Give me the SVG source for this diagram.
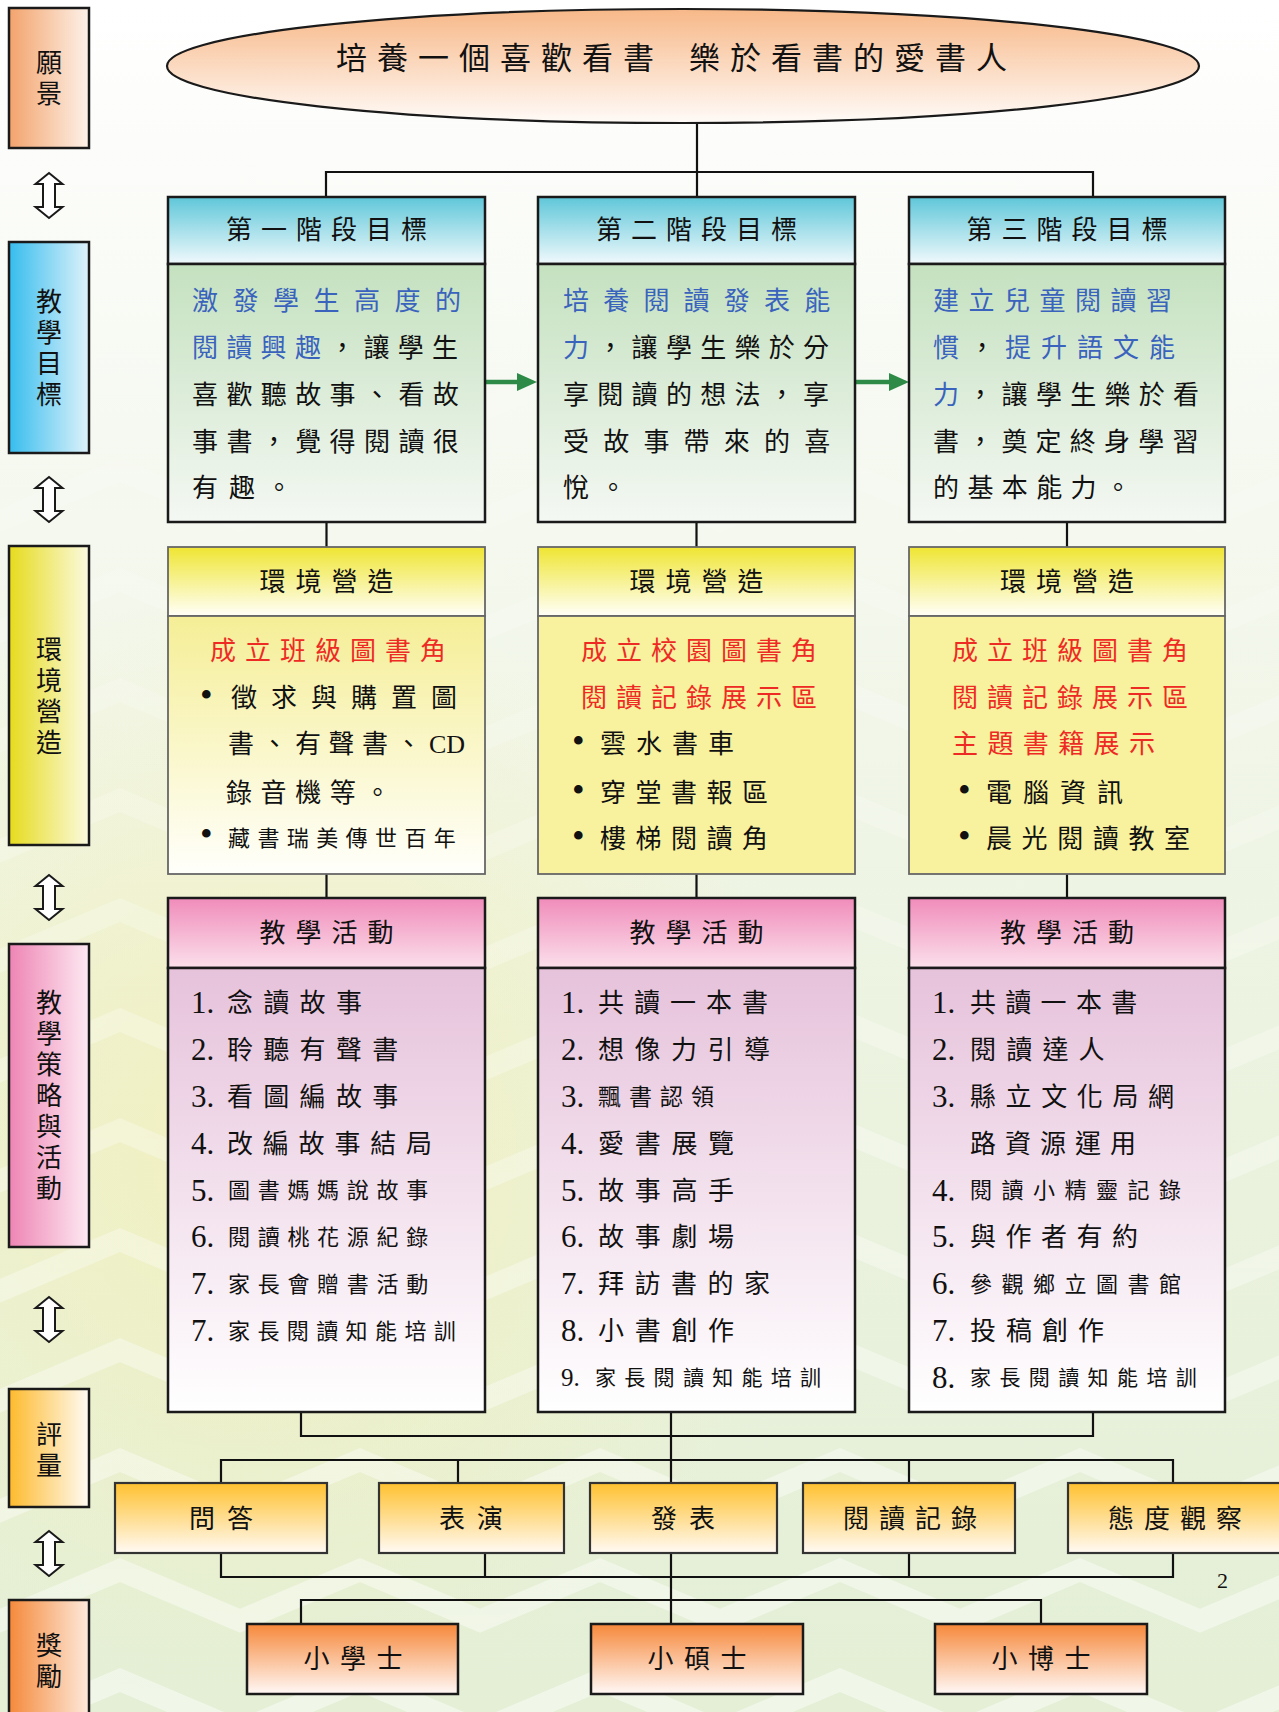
<svg xmlns="http://www.w3.org/2000/svg" width="1279" height="1712" viewBox="0 0 1279 1712">
<defs>
<style>
.cjk{font-family:"Noto Sans CJK TC","Noto Sans CJK SC",sans-serif;fill:#111;}
.num{font-family:"Liberation Serif","Noto Sans CJK TC",serif;fill:#111;}
.bul{font-family:"Liberation Serif",serif;font-size:36px;fill:#111;}
.b{fill:#3a63bd;}
.r{fill:#ee2a24;}
.k{fill:#111;}
.conn{stroke:#111;stroke-width:2.2;fill:none;}
.box{stroke:#1a1a1a;stroke-width:2.5;}
.gbox{stroke:#666;stroke-width:1.8;}
.ebox{stroke:#333;stroke-width:2.2;}
.lbl{font-size:26px;text-anchor:middle;writing-mode:vertical-rl;letter-spacing:5px;}
.hd{font-size:26px;}
.bd{font-size:26px;}
.sm{font-size:22px;}
.n{font-size:31px;}
</style>
<linearGradient id="bg" x1="0" y1="0" x2="0" y2="1">
<stop offset="0" stop-color="#ffffff"/><stop offset="0.25" stop-color="#f6f9f1"/><stop offset="0.6" stop-color="#ecf3e0"/><stop offset="1" stop-color="#e4efd6"/>
</linearGradient>
<radialGradient id="yel" cx="0.5" cy="0.5" r="0.5">
<stop offset="0" stop-color="#f4efb0" stop-opacity="0.7"/><stop offset="1" stop-color="#f4efb0" stop-opacity="0"/>
</radialGradient>
<pattern id="chev" width="240" height="110" patternUnits="userSpaceOnUse">
<polyline points="-10,85 120,30 250,85" stroke="#ffffff" stroke-opacity="0.45" stroke-width="22" fill="none"/>
</pattern>
<linearGradient id="fade" x1="0" y1="0" x2="0" y2="1">
<stop offset="0" stop-color="#fff" stop-opacity="0"/><stop offset="0.3" stop-color="#fff" stop-opacity="0.3"/><stop offset="1" stop-color="#fff" stop-opacity="1"/>
</linearGradient>
<mask id="chevmask"><rect width="1279" height="1712" fill="url(#fade)"/></mask>
<linearGradient id="gEll" x1="0" y1="0" x2="0" y2="1"><stop offset="0" stop-color="#f7b888"/><stop offset="1" stop-color="#fffbf8"/></linearGradient>
<linearGradient id="lVision" x1="0" y1="0" x2="1" y2="0"><stop offset="0" stop-color="#f3a36c"/><stop offset="1" stop-color="#fdf2ea"/></linearGradient>
<linearGradient id="lGoal" x1="0" y1="0" x2="1" y2="0"><stop offset="0" stop-color="#36bdee"/><stop offset="1" stop-color="#dff2fa"/></linearGradient>
<linearGradient id="lEnv" x1="0" y1="0" x2="1" y2="0"><stop offset="0" stop-color="#e6db1c"/><stop offset="1" stop-color="#fbfae0"/></linearGradient>
<linearGradient id="lAct" x1="0" y1="0" x2="1" y2="0"><stop offset="0" stop-color="#ee84b4"/><stop offset="1" stop-color="#fdeaf2"/></linearGradient>
<linearGradient id="lEval" x1="0" y1="0" x2="1" y2="0"><stop offset="0" stop-color="#fdba2c"/><stop offset="1" stop-color="#fffbf4"/></linearGradient>
<linearGradient id="lAward" x1="0" y1="0" x2="1" y2="0"><stop offset="0" stop-color="#f5893a"/><stop offset="1" stop-color="#fdeadc"/></linearGradient>
<linearGradient id="gGoalH" x1="0" y1="0" x2="0" y2="1"><stop offset="0" stop-color="#5fc7d9"/><stop offset="1" stop-color="#f0f9fc"/></linearGradient>
<linearGradient id="gGoalB" x1="0" y1="0" x2="0" y2="1"><stop offset="0" stop-color="#c4e1bf"/><stop offset="1" stop-color="#f4f8f3"/></linearGradient>
<linearGradient id="gEnvH" x1="0" y1="0" x2="0" y2="1"><stop offset="0" stop-color="#efe532"/><stop offset="1" stop-color="#fffff8"/></linearGradient>
<linearGradient id="gEnvB1" x1="0" y1="0" x2="0" y2="1"><stop offset="0" stop-color="#f5ee96"/><stop offset="1" stop-color="#fffffb"/></linearGradient>
<linearGradient id="gActH" x1="0" y1="0" x2="0" y2="1"><stop offset="0" stop-color="#f08cba"/><stop offset="1" stop-color="#fbe0eb"/></linearGradient>
<linearGradient id="gActB" x1="0" y1="0" x2="0" y2="1"><stop offset="0" stop-color="#e6c2db"/><stop offset="1" stop-color="#ffffff"/></linearGradient>
<linearGradient id="gEval" x1="0" y1="0" x2="0" y2="1"><stop offset="0" stop-color="#ffc12f"/><stop offset="1" stop-color="#fffaf4"/></linearGradient>
<linearGradient id="gAward" x1="0" y1="0" x2="0" y2="1"><stop offset="0" stop-color="#f6883a"/><stop offset="1" stop-color="#fff8f6"/></linearGradient>
<path id="dbl" d="M0,0 L13.5,11 L6,11 L6,34 L13.5,34 L0,45 L-13.5,34 L-6,34 L-6,11 L-13.5,11 Z" fill="#ffffff" stroke="#1a1a1a" stroke-width="2"/>
<marker id="garrow" markerUnits="userSpaceOnUse" markerWidth="20" markerHeight="18" refX="13" refY="9" orient="auto">
<path d="M0,0 L20,9 L0,18 Z" fill="#2e8b47"/>
</marker>
</defs>

<g id="background">
<rect width="1279" height="1712" fill="url(#bg)"/>
<ellipse cx="260" cy="1150" rx="560" ry="560" fill="url(#yel)"/>
<rect width="1279" height="1712" fill="url(#chev)" mask="url(#chevmask)"/>
</g>

<g id="connectors">
<path class="conn" d="M697,123 V197 M326,197 V172 H1093 V197"/>
<path class="conn" d="M326.5,522 V547 M696.5,522 V547 M1067,522 V547"/>
<path class="conn" d="M326.5,874 V898 M696.5,874 V898 M1067,874 V898"/>
<path class="conn" d="M301,1412 V1436 H1093 V1412 M671,1412 V1483"/>
<path class="conn" d="M221,1483 V1460 H1173 V1483 M458,1460 V1483 M909,1460 V1483"/>
<path class="conn" d="M221,1553 V1577 H1173 V1553 M485,1553 V1577 M909,1553 V1577 M671,1553 V1624"/>
<path class="conn" d="M301,1624 V1600 H1041 V1624"/>
<line x1="485" y1="382" x2="530" y2="382" stroke="#2e8b47" stroke-width="4.5" marker-end="url(#garrow)"/>
<line x1="855" y1="382" x2="902" y2="382" stroke="#2e8b47" stroke-width="4.5" marker-end="url(#garrow)"/>
</g>

<g id="side-arrows">
<use href="#dbl" x="49" y="173"/>
<use href="#dbl" x="49" y="477"/>
<use href="#dbl" x="49" y="875"/>
<use href="#dbl" x="49" y="1297"/>
<use href="#dbl" x="49" y="1531"/>
</g>

<g id="label-vision">
<rect x="9" y="8" width="80" height="140" fill="url(#lVision)" class="box" stroke-width="2"/>
<text class="cjk lbl" x="49" y="80.5">願景</text>
</g>
<g id="label-goals">
<rect x="9" y="242" width="80" height="211" fill="url(#lGoal)" class="box" stroke-width="2"/>
<text class="cjk lbl" x="49" y="350">教學目標</text>
</g>
<g id="label-env">
<rect x="9" y="546" width="80" height="299" fill="url(#lEnv)" class="box" stroke-width="2"/>
<text class="cjk lbl" x="49" y="698">環境營造</text>
</g>
<g id="label-strategy">
<rect x="9" y="944" width="80" height="303" fill="url(#lAct)" class="box" stroke-width="2"/>
<text class="cjk lbl" x="49" y="1098">教學策略與活動</text>
</g>
<g id="label-eval">
<rect x="9" y="1389" width="80" height="118" fill="url(#lEval)" class="box" stroke-width="2"/>
<text class="cjk lbl" x="49" y="1452.5">評量</text>
</g>
<g id="label-award">
<rect x="9" y="1600" width="80" height="130" fill="url(#lAward)" class="box" stroke-width="2"/>
<text class="cjk lbl" x="49" y="1663">獎勵</text>
</g>

<g id="vision">
<ellipse cx="683" cy="66" rx="516" ry="57" fill="url(#gEll)" stroke="#1a1a1a" stroke-width="2.2"/>
<text class="cjk" font-size="31" letter-spacing="10" y="69"><tspan x="336">培養一個喜歡看書</tspan> <tspan x="689">樂於看書的愛書人</tspan></text>
</g>

<g id="goal-1">
<rect x="168" y="197" width="317" height="67" fill="url(#gGoalH)" class="box"/>
<rect x="168" y="264" width="317" height="258" fill="url(#gGoalB)" class="box"/>
<text class="cjk hd" x="226" y="239" letter-spacing="9">第一階段目標</text>
<text class="cjk bd b" x="192" y="310" letter-spacing="14.5">激發學生高度的</text>
<text class="cjk bd" x="192" y="357" letter-spacing="8.3"><tspan class="b">閱讀興趣</tspan><tspan class="k">，讓學生</tspan></text>
<text class="cjk bd" x="192" y="404" letter-spacing="8.4">喜歡聽故事、看故</text>
<text class="cjk bd" x="192" y="451" letter-spacing="8.4">事書，覺得閱讀很</text>
<text class="cjk bd" x="192" y="497" letter-spacing="11">有趣。</text>
</g>
<g id="goal-2">
<rect x="538" y="197" width="317" height="67" fill="url(#gGoalH)" class="box"/>
<rect x="538" y="264" width="317" height="258" fill="url(#gGoalB)" class="box"/>
<text class="cjk hd" x="596" y="239" letter-spacing="9">第二階段目標</text>
<text class="cjk bd b" x="563" y="310" letter-spacing="14.2">培養閱讀發表能</text>
<text class="cjk bd" x="563" y="357" letter-spacing="8.3"><tspan class="b">力</tspan><tspan class="k">，讓學生樂於分</tspan></text>
<text class="cjk bd" x="563" y="404" letter-spacing="8.3">享閱讀的想法，享</text>
<text class="cjk bd" x="563" y="451" letter-spacing="14.2">受故事帶來的喜</text>
<text class="cjk bd" x="563" y="497" letter-spacing="11">悅。</text>
</g>
<g id="goal-3">
<rect x="909" y="197" width="316" height="67" fill="url(#gGoalH)" class="box"/>
<rect x="909" y="264" width="316" height="258" fill="url(#gGoalB)" class="box"/>
<text class="cjk hd" x="966.5" y="239" letter-spacing="9">第三階段目標</text>
<text class="cjk bd b" x="933" y="310" letter-spacing="9.5">建立兒童閱讀習</text>
<text class="cjk bd" x="933" y="357" letter-spacing="10"><tspan class="b">慣</tspan><tspan class="k">，</tspan><tspan class="b">提升語文能</tspan></text>
<text class="cjk bd" x="933" y="404" letter-spacing="8.3"><tspan class="b">力</tspan><tspan class="k">，讓學生樂於看</tspan></text>
<text class="cjk bd" x="933" y="451" letter-spacing="8.2">書，奠定終身學習</text>
<text class="cjk bd" x="933" y="497" letter-spacing="8.4">的基本能力。</text>
</g>

<g id="env-1">
<rect x="168" y="547" width="317" height="69" fill="url(#gEnvH)" class="gbox"/>
<rect x="168" y="616" width="317" height="258" fill="url(#gEnvB1)" class="gbox"/>
<text class="cjk hd" x="259.5" y="591" letter-spacing="10">環境營造</text>
<text class="cjk bd r" x="210" y="660" letter-spacing="9">成立班級圖書角</text>
<text class="cjk bd" y="707"><tspan class="bul" x="200">•</tspan><tspan x="231" letter-spacing="14">徵求與購置圖</tspan></text>
<text class="cjk bd" y="753"><tspan x="228" letter-spacing="7.5">書、有聲書、</tspan><tspan class="num" x="429">CD</tspan></text>
<text class="cjk bd" x="226" y="802" letter-spacing="8.6">錄音機等。</text>
<text class="cjk" y="846"><tspan class="bul" x="200">•</tspan><tspan x="228" font-size="22" letter-spacing="7.4">藏書瑞美傳世百年</tspan></text>
</g>
<g id="env-2">
<rect x="538" y="547" width="317" height="69" fill="url(#gEnvH)" class="gbox"/>
<rect x="538" y="616" width="317" height="258" fill="#f8f29e" class="gbox"/>
<text class="cjk hd" x="629.5" y="591" letter-spacing="10">環境營造</text>
<text class="cjk bd r" x="581" y="660" letter-spacing="9">成立校園圖書角</text>
<text class="cjk bd r" x="581" y="707" letter-spacing="9">閱讀記錄展示區</text>
<text class="cjk bd" y="753"><tspan class="bul" x="572">•</tspan><tspan x="600" letter-spacing="10">雲水書車</tspan></text>
<text class="cjk bd" y="802"><tspan class="bul" x="572">•</tspan><tspan x="600" letter-spacing="9.5">穿堂書報區</tspan></text>
<text class="cjk bd" y="848"><tspan class="bul" x="572">•</tspan><tspan x="600" letter-spacing="9.5">樓梯閱讀角</tspan></text>
</g>
<g id="env-3">
<rect x="909" y="547" width="316" height="69" fill="url(#gEnvH)" class="gbox"/>
<rect x="909" y="616" width="316" height="258" fill="#f8f29e" class="gbox"/>
<text class="cjk hd" x="1000" y="591" letter-spacing="10">環境營造</text>
<text class="cjk bd r" x="952" y="660" letter-spacing="9">成立班級圖書角</text>
<text class="cjk bd r" x="952" y="707" letter-spacing="9">閱讀記錄展示區</text>
<text class="cjk bd r" x="952" y="753" letter-spacing="9.4">主題書籍展示</text>
<text class="cjk bd" y="802"><tspan class="bul" x="958">•</tspan><tspan x="986" letter-spacing="11">電腦資訊</tspan></text>
<text class="cjk bd" y="848"><tspan class="bul" x="958">•</tspan><tspan x="986" letter-spacing="9.6">晨光閱讀教室</tspan></text>
</g>

<g id="activity-1">
<rect x="168" y="898" width="317" height="70" fill="url(#gActH)" class="box"/>
<rect x="168" y="968" width="317" height="444" fill="url(#gActB)" class="box"/>
<text class="cjk hd" x="259.5" y="942" letter-spacing="10">教學活動</text>
<text class="num n" x="191" y="1013">1.</text><text class="cjk bd" x="227" y="1012" letter-spacing="10.3">念讀故事</text>
<text class="num n" x="191" y="1060">2.</text><text class="cjk bd" x="227" y="1059" letter-spacing="10.3">聆聽有聲書</text>
<text class="num n" x="191" y="1107">3.</text><text class="cjk bd" x="227" y="1106" letter-spacing="10.3">看圖編故事</text>
<text class="num n" x="191" y="1154">4.</text><text class="cjk bd" x="227" y="1153" letter-spacing="9.8">改編故事結局</text>
<text class="num n" x="191" y="1201">5.</text><text class="cjk sm" x="228" y="1198" letter-spacing="7.7">圖書媽媽說故事</text>
<text class="num n" x="191" y="1247">6.</text><text class="cjk sm" x="228" y="1245" letter-spacing="7.7">閱讀桃花源紀錄</text>
<text class="num n" x="191" y="1294">7.</text><text class="cjk sm" x="228" y="1292" letter-spacing="7.7">家長會贈書活動</text>
<text class="num n" x="191" y="1341">7.</text><text class="cjk sm" x="228" y="1339" letter-spacing="7.4">家長閱讀知能培訓</text>
</g>
<g id="activity-2">
<rect x="538" y="898" width="317" height="70" fill="url(#gActH)" class="box"/>
<rect x="538" y="968" width="317" height="444" fill="url(#gActB)" class="box"/>
<text class="cjk hd" x="629.5" y="942" letter-spacing="10">教學活動</text>
<text class="num n" x="561" y="1013">1.</text><text class="cjk bd" x="598" y="1012" letter-spacing="10">共讀一本書</text>
<text class="num n" x="561" y="1060">2.</text><text class="cjk bd" x="598" y="1059" letter-spacing="10.5">想像力引導</text>
<text class="num n" x="561" y="1107">3.</text><text class="cjk" font-size="23" x="598" y="1105" letter-spacing="8">飄書認領</text>
<text class="num n" x="561" y="1154">4.</text><text class="cjk bd" x="598" y="1153" letter-spacing="10.7">愛書展覽</text>
<text class="num n" x="561" y="1201">5.</text><text class="cjk bd" x="598" y="1200" letter-spacing="10.7">故事高手</text>
<text class="num n" x="561" y="1247">6.</text><text class="cjk bd" x="598" y="1246" letter-spacing="10.7">故事劇場</text>
<text class="num n" x="561" y="1294">7.</text><text class="cjk bd" x="598" y="1293" letter-spacing="10.5">拜訪書的家</text>
<text class="num n" x="561" y="1341">8.</text><text class="cjk bd" x="598" y="1340" letter-spacing="10.7">小書創作</text>
<text class="num" font-size="25" x="561" y="1386">9.</text><text class="cjk" font-size="21" x="595" y="1385" letter-spacing="8.3">家長閱讀知能培訓</text>
</g>
<g id="activity-3">
<rect x="909" y="898" width="316" height="70" fill="url(#gActH)" class="box"/>
<rect x="909" y="968" width="316" height="444" fill="url(#gActB)" class="box"/>
<text class="cjk hd" x="1000" y="942" letter-spacing="10">教學活動</text>
<text class="num n" x="932" y="1013">1.</text><text class="cjk bd" x="970" y="1012" letter-spacing="9.3">共讀一本書</text>
<text class="num n" x="932" y="1060">2.</text><text class="cjk bd" x="970" y="1059" letter-spacing="10.2">閱讀達人</text>
<text class="num n" x="932" y="1107">3.</text><text class="cjk bd" x="970" y="1106" letter-spacing="9.6">縣立文化局網</text>
<text class="cjk bd" x="970" y="1153" letter-spacing="9">路資源運用</text>
<text class="num n" x="932" y="1201">4.</text><text class="cjk sm" x="970" y="1198" letter-spacing="9.5">閱讀小精靈記錄</text>
<text class="num n" x="932" y="1247">5.</text><text class="cjk bd" x="970" y="1246" letter-spacing="9.5">與作者有約</text>
<text class="num n" x="932" y="1294">6.</text><text class="cjk sm" x="970" y="1292" letter-spacing="9.5">參觀鄉立圖書館</text>
<text class="num n" x="932" y="1341">7.</text><text class="cjk bd" x="970" y="1340" letter-spacing="10">投稿創作</text>
<text class="num n" x="932" y="1388">8.</text><text class="cjk" font-size="21" x="970" y="1385" letter-spacing="8.4">家長閱讀知能培訓</text>
</g>

<g id="eval-qa">
<rect x="115" y="1483" width="212" height="70" fill="url(#gEval)" class="ebox"/>
<text class="cjk hd" x="189" y="1528" letter-spacing="12">問答</text>
</g>
<g id="eval-perform">
<rect x="379" y="1483" width="185" height="70" fill="url(#gEval)" class="ebox"/>
<text class="cjk hd" x="439" y="1528" letter-spacing="12">表演</text>
</g>
<g id="eval-present">
<rect x="590" y="1483" width="187" height="70" fill="url(#gEval)" class="ebox"/>
<text class="cjk hd" x="651" y="1528" letter-spacing="12">發表</text>
</g>
<g id="eval-record">
<rect x="803" y="1483" width="212" height="70" fill="url(#gEval)" class="ebox"/>
<text class="cjk hd" x="843" y="1528" letter-spacing="10">閱讀記錄</text>
</g>
<g id="eval-attitude">
<rect x="1068" y="1483" width="214" height="70" fill="url(#gEval)" class="ebox"/>
<text class="cjk hd" x="1108" y="1528" letter-spacing="10">態度觀察</text>
</g>

<g id="award-bachelor">
<rect x="247" y="1624" width="211" height="70" fill="url(#gAward)" class="box"/>
<text class="cjk hd" x="303.5" y="1668" letter-spacing="10.5">小學士</text>
</g>
<g id="award-master">
<rect x="591" y="1624" width="212" height="70" fill="url(#gAward)" class="box"/>
<text class="cjk hd" x="647.5" y="1668" letter-spacing="10.5">小碩士</text>
</g>
<g id="award-doctor">
<rect x="935" y="1624" width="212" height="70" fill="url(#gAward)" class="box"/>
<text class="cjk hd" x="991.5" y="1668" letter-spacing="10.5">小博士</text>
</g>

<text class="num" font-size="22" x="1217" y="1588" fill="#333">2</text>
</svg>
